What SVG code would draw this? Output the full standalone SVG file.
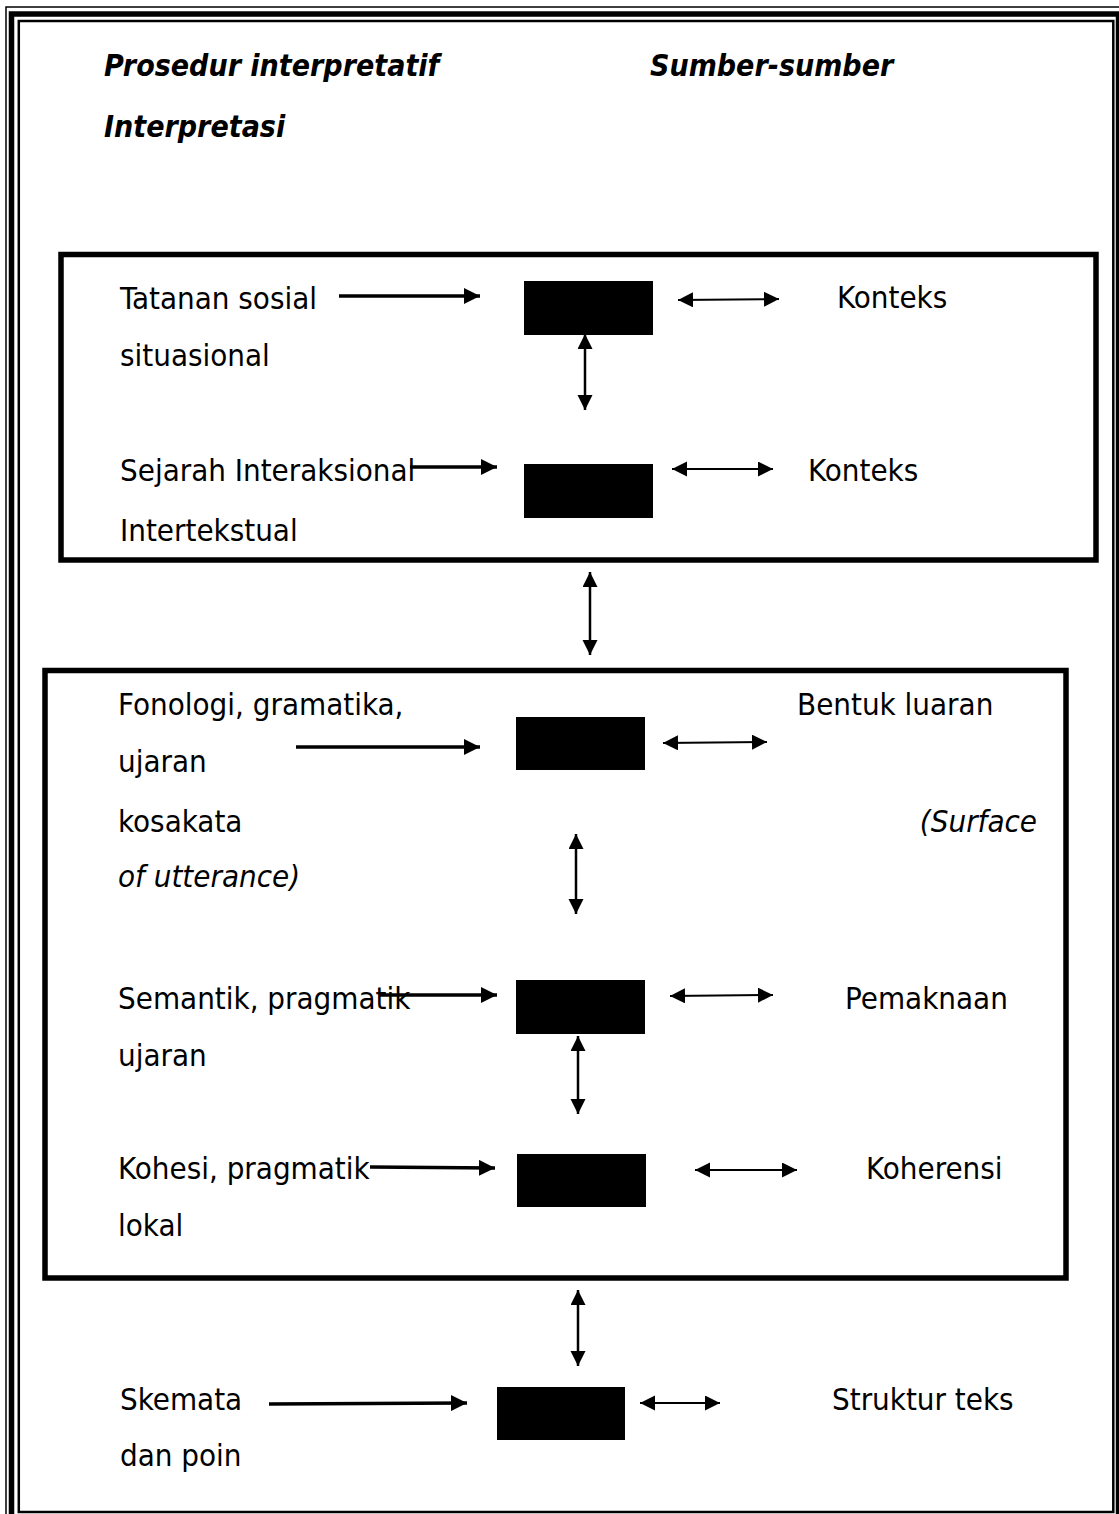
<svg xmlns="http://www.w3.org/2000/svg" width="1119" height="1514" viewBox="0 0 1119 1514">
<style>
.t{font-family:'DejaVu Sans Condensed','Noto Sans',sans-serif;font-size:31px;fill:#000}
.h{font-family:'DejaVu Sans Condensed','Noto Sans',sans-serif;font-size:30px;font-weight:bold;font-style:italic;fill:#000}
.i{font-style:italic}
.frame{fill:none;stroke:#000}
.blk{fill:#000}
.a1{stroke:#000;stroke-width:3.5;fill:none;marker-end:url(#ah)}
.a2{stroke:#000;stroke-width:2;fill:none;marker-end:url(#dh);marker-start:url(#dh)}
.a3{stroke:#000;stroke-width:2.5;fill:none;marker-end:url(#dh);marker-start:url(#dh)}
</style>
<defs>
<marker id="ah" markerUnits="userSpaceOnUse" markerWidth="18" markerHeight="16" refX="16" refY="8" orient="auto"><path d="M0,0 L16,8 L0,16 z" fill="#000"/></marker>
<marker id="dh" markerUnits="userSpaceOnUse" markerWidth="16" markerHeight="16" refX="15" refY="7.5" orient="auto-start-reverse"><path d="M0,0 L15,7.5 L0,15 z" fill="#000"/></marker>
</defs>
<rect width="1119" height="1514" fill="#fff"/>
<g id="page-border">
<rect class="frame" x="6" y="7" width="1119" height="1530" stroke-width="1.5"/>
<rect class="frame" x="11.5" y="14" width="1107" height="1515" stroke-width="5.5"/>
<rect class="frame" x="18.8" y="21" width="1094.5" height="1491" stroke-width="2.5"/>
</g>
<g id="title">
<text class="h" x="104" y="76">Prosedur interpretatif</text>
<text class="h" x="650" y="76">Sumber-sumber</text>
<text class="h" x="104" y="137">Interpretasi</text>
</g>
<g id="group-context">
<rect class="frame" x="61" y="254.5" width="1035" height="305.5" stroke-width="5.5"/>
</g>
<g id="group-text">
<rect class="frame" x="45" y="670.5" width="1021" height="607.5" stroke-width="5.5"/>
</g>
<g id="n-tatanan"><text class="t" x="120" y="309">Tatanan sosial</text><text class="t" x="120" y="366">situasional</text></g>
<g id="n-box1"><rect class="blk" x="524" y="281" width="129" height="54"/></g>
<g id="n-konteks1"><text class="t" x="837" y="308">Konteks</text></g>
<g id="n-sejarah"><text class="t" x="120" y="481">Sejarah Interaksional</text><text class="t" x="120" y="541">Intertekstual</text></g>
<g id="n-box2"><rect class="blk" x="524" y="464" width="129" height="54"/></g>
<g id="n-konteks2"><text class="t" x="808" y="481">Konteks</text></g>
<g id="n-fonologi"><text class="t" x="118" y="715">Fonologi, gramatika,</text><text class="t" x="118" y="772">ujaran</text><text class="t" x="118" y="832">kosakata</text></g>
<g id="n-box3"><rect class="blk" x="516" y="717" width="129" height="53"/></g>
<g id="n-bentuk"><text class="t" x="797" y="715">Bentuk luaran</text><text class="t i" x="1037" y="832" text-anchor="end">(Surface</text><text class="t i" x="118" y="887">of utterance)</text></g>
<g id="n-semantik"><text class="t" x="118" y="1009">Semantik, pragmatik</text><text class="t" x="118" y="1066">ujaran</text></g>
<g id="n-box4"><rect class="blk" x="516" y="980" width="129" height="54"/></g>
<g id="n-pemaknaan"><text class="t" x="845" y="1009">Pemaknaan</text></g>
<g id="n-kohesi"><text class="t" x="118" y="1179">Kohesi, pragmatik</text><text class="t" x="118" y="1236">lokal</text></g>
<g id="n-box5"><rect class="blk" x="517" y="1154" width="129" height="53"/></g>
<g id="n-koherensi"><text class="t" x="866" y="1179">Koherensi</text></g>
<g id="n-skemata"><text class="t" x="120" y="1410">Skemata</text><text class="t" x="120" y="1466">dan poin</text></g>
<g id="n-box6"><rect class="blk" x="497" y="1387" width="128" height="53"/></g>
<g id="n-struktur"><text class="t" x="832" y="1410">Struktur teks</text></g>
<g id="connectors">
<line class="a1" x1="339" y1="296" x2="480" y2="296"/>
<line class="a2" x1="678" y1="300" x2="779" y2="299"/>
<line class="a3" x1="585" y1="334" x2="585" y2="410"/>
<line class="a1" x1="410" y1="467" x2="497" y2="467"/>
<line class="a2" x1="672" y1="469" x2="773" y2="469"/>
<line class="a3" x1="590" y1="572" x2="590" y2="655"/>
<line class="a1" x1="296" y1="747" x2="480" y2="747"/>
<line class="a2" x1="663" y1="743" x2="767" y2="742"/>
<line class="a3" x1="576" y1="834" x2="576" y2="914"/>
<line class="a1" x1="380" y1="995" x2="497" y2="995"/>
<line class="a2" x1="670" y1="996" x2="773" y2="995"/>
<line class="a3" x1="578" y1="1036" x2="578" y2="1114"/>
<line class="a1" x1="370" y1="1167" x2="495" y2="1168"/>
<line class="a2" x1="695" y1="1170" x2="797" y2="1170"/>
<line class="a3" x1="578" y1="1290" x2="578" y2="1366"/>
<line class="a1" x1="269" y1="1404" x2="467" y2="1403"/>
<line class="a2" x1="640" y1="1403" x2="720" y2="1403"/>
</g>
</svg>
